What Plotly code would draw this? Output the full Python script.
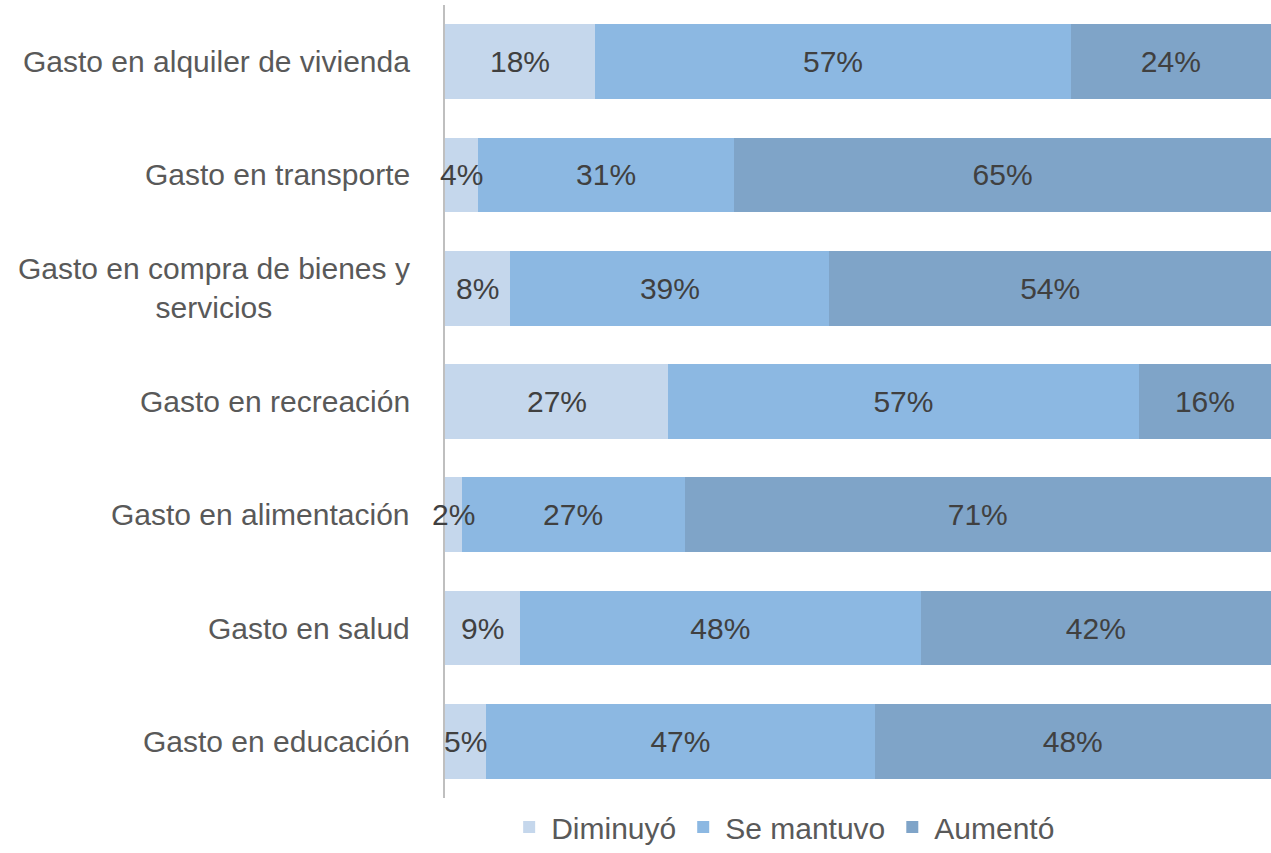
import plotly.graph_objects as go

categories = [
    "Gasto en alquiler de vivienda",
    "Gasto en transporte",
    "Gasto en compra de bienes y<br>servicios",
    "Gasto en recreación",
    "Gasto en alimentación",
    "Gasto en salud",
    "Gasto en educación",
]
diminuyo = [18, 4, 8, 27, 2, 9, 5]
se_mantuvo = [57, 31, 39, 57, 27, 48, 47]
aumento = [24, 65, 54, 16, 71, 42, 48]

series = [
    ("Diminuyó", diminuyo, "#C5D7EC"),
    ("Se mantuvo", se_mantuvo, "#8CB8E2"),
    ("Aumentó", aumento, "#7FA4C8"),
]

FONT = "Liberation Sans Narrow, Arial Narrow, Liberation Sans, Arial, sans-serif"
SIZE = 30
TEXTCOL = "#404040"

fig = go.Figure()
for i, (name, vals, color) in enumerate(series):
    fig.add_trace(go.Bar(
        y=categories, x=vals, name=name, orientation="h",
        marker=dict(color=color, line=dict(width=0)),
        text=None if i == 0 else [f"{v}%" for v in vals],
        textposition="inside", insidetextanchor="middle", textangle=0,
        textfont=dict(size=SIZE, color=TEXTCOL, family=FONT),
        cliponaxis=False, hoverinfo="skip",
    ))

# labels of the first (small) segment drawn on top so they can overflow
totals = [a + b + c for a, b, c in zip(diminuyo, se_mantuvo, aumento)]
mid_x = [d / t * 100 / 2 for d, t in zip(diminuyo, totals)]
for c, x, v in zip(categories, mid_x, diminuyo):
    fig.add_annotation(
        x=x, xref="x", y=c, yref="y", text=f"{v}%", showarrow=False,
        xanchor="center", yanchor="middle",
        font=dict(size=SIZE, color=TEXTCOL, family=FONT),
    )

for c in categories:
    fig.add_annotation(
        x=0, xref="paper", y=c, yref="y", text=c, showarrow=False,
        xanchor="right", align="center", xshift=-33,
        font=dict(size=SIZE, color="#595959", family=FONT),
    )

fig.update_layout(
    barmode="stack", barnorm="percent", bargap=0.34,
    width=1271, height=853,
    margin=dict(l=445, r=0, t=5, b=55),
    paper_bgcolor="white", plot_bgcolor="white",
    font=dict(family=FONT, size=SIZE, color="#595959"),
    uniformtext=dict(mode="show", minsize=SIZE),
    showlegend=True,
    legend=dict(orientation="h", x=0.41, xanchor="center",
                yref="container", y=-0.008, yanchor="bottom",
                traceorder="normal",
                font=dict(size=SIZE, color="#595959", family=FONT),
                itemwidth=34, tracegroupgap=0),
    xaxis=dict(range=[0, 100], showgrid=False, zeroline=False, showticklabels=False,
               showline=False, fixedrange=True),
    yaxis=dict(autorange="reversed", showticklabels=False, showgrid=False,
               showline=True, linecolor="#BFBFBF", linewidth=2, ticks="",
               fixedrange=True),
)

fig.write_html(
    "out.html",
    config={"displayModeBar": False},
    post_script="document.body.style.margin='0';document.body.style.padding='0';document.body.style.overflow='hidden';",
)
